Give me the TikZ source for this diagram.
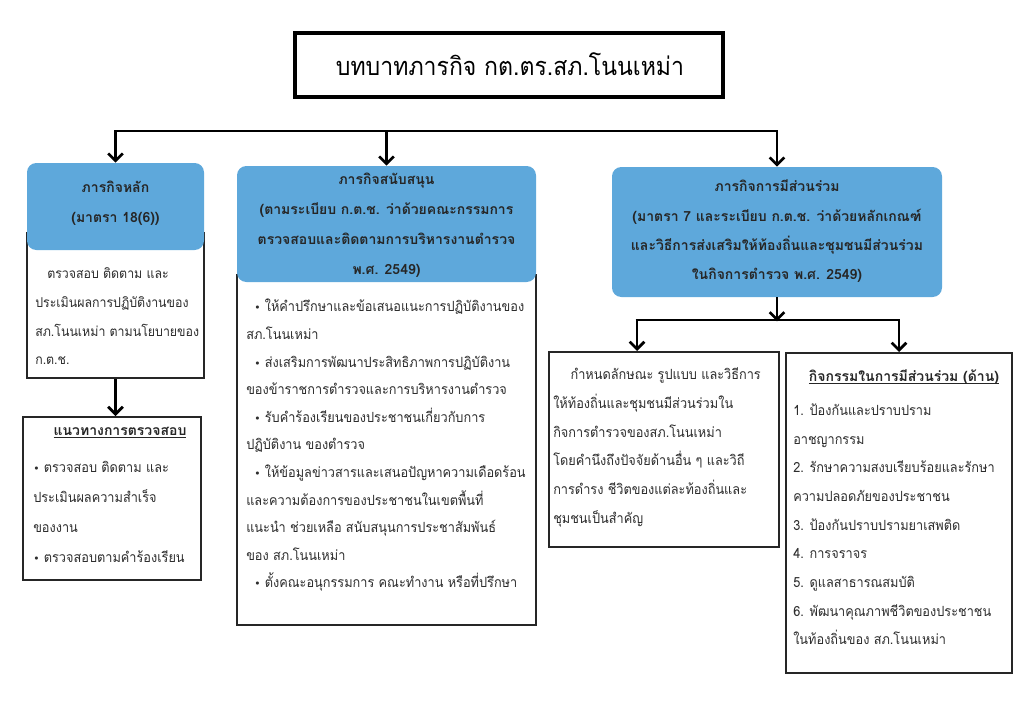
\documentclass[tikz,border=0pt]{standalone}
\usepackage{fontspec}
\setmainfont[Script=Thai,FakeStretch=0.91]{Loma}
\newfontfamily\headfont[Script=Thai]{Loma}
\newfontfamily\bulfont{DejaVu Sans}
\usetikzlibrary{arrows.meta,fit}
\definecolor{boxblue}{RGB}{94,168,219}
\definecolor{bodytext}{RGB}{45,45,45}
\newcommand\bul{{\bulfont\footnotesize •}}
\newcommand\ulx[1]{\underline{\smash{#1}}}
\begin{document}
\begin{tikzpicture}[x=0.75pt,y=-0.75pt,
  bluebox/.style={fill=boxblue,draw=none,rounded corners=7pt,inner sep=0pt},
  whitebox/.style={draw=black!85,line width=1.5pt,fill=white,inner sep=0pt},
  titlebox/.style={draw=black,line width=2.4pt,inner sep=0pt},
  headtext/.style={font=\headfont\bfseries\fontsize{10.5}{22.5}\selectfont,align=center,inner sep=0pt,text=black!85},
  bodytxt/.style={font=\fontsize{10.5}{21.5}\selectfont,align=left,inner sep=0pt,text=bodytext,anchor=west},
  conn/.style={line width=2.2pt,draw=black},
  arr/.style={conn,-{Straight Barb[length=5.5pt,width=11pt,line width=2pt]}}]
\useasboundingbox[fill=white] (0,0) rectangle (1024,724);

% title
\node[titlebox,fit={(295,33) (723,97)}] (title) {};
\node[font=\fontsize{19}{22}\selectfont,inner sep=0pt] (titletext) at (510,64) {บทบาทภารกิจ กต.ตร.สภ.โนนเหม่า};

% left column
\node[whitebox,fit={(27,233) (204,378)}] (lwhite) {};
\node[bluebox,fit={(27,163) (204,250)}] (lblue) {};
\node[headtext] (lbluetext) at (115.5,203) {ภารกิจหลัก\\(มาตรา 18(6))};
\node[bodytxt,font=\fontsize{10.2}{21.5}\selectfont] (lwhitetext) at (35,316.5) {\hspace*{9pt}ตรวจสอบ ติดตาม และ\\ประเมินผลการปฏิบัติงานของ\\สภ.โนนเหม่า ตามนโยบายของ\\ก.ต.ช.};
\node[whitebox,fit={(23,417) (201,580)}] (lguide) {};
\node[headtext,font=\headfont\bfseries\fontsize{10.5}{22}\selectfont] (lguidehead) at (120,437) {\ulx{แนวทางการตรวจสอบ}};
\node[bodytxt,font=\fontsize{10.5}{22.5}\selectfont] (lguidetext) at (33,512) {\bul\ ตรวจสอบ ติดตาม และ\\ประเมินผลความสำเร็จ\\ของงาน\\\bul\ ตรวจสอบตามคำร้องเรียน};

% middle column
\node[whitebox,fit={(237,275) (536,625)}] (mwhite) {};
\node[bluebox,fit={(237,166) (536,282)}] (mblue) {};
\node[headtext] (mbluetext) at (386.5,225) {ภารกิจสนับสนุน\\(ตามระเบียบ ก.ต.ช. ว่าด้วยคณะกรรมการ\\ตรวจสอบและติดตามการบริหารงานตำรวจ\\พ.ศ. 2549)};
\node[bodytxt,font=\fontsize{10.5}{20.7}\selectfont] (mwhitetext) at (246,445.5) {%
\hspace*{6pt}\bul\ ให้คำปรึกษาและข้อเสนอแนะการปฏิบัติงานของ\\
สภ.โนนเหม่า\\
\hspace*{6pt}\bul\ ส่งเสริมการพัฒนาประสิทธิภาพการปฏิบัติงาน\\
ของข้าราชการตำรวจและการบริหารงานตำรวจ\\
\hspace*{6pt}\bul\ รับคำร้องเรียนของประชาชนเกี่ยวกับการ\\
ปฏิบัติงาน ของตำรวจ\\
\hspace*{6pt}\bul\ ให้ข้อมูลข่าวสารและเสนอปัญหาความเดือดร้อน\\
และความต้องการของประชาชนในเขตพื้นที่\\
แนะนำ ช่วยเหลือ สนับสนุนการประชาสัมพันธ์\\
ของ สภ.โนนเหม่า\\
\hspace*{6pt}\bul\ ตั้งคณะอนุกรรมการ คณะทำงาน หรือที่ปรึกษา};

% right column
\node[bluebox,fit={(612,167) (942,297)}] (rblue) {};
\node[headtext,font=\headfont\bfseries\fontsize{10.5}{22}\selectfont] (rbluetext) at (777,231.5) {ภารกิจการมีส่วนร่วม\\(มาตรา 7 และระเบียบ ก.ต.ช. ว่าด้วยหลักเกณฑ์\\และวิธีการส่งเสริมให้ท้องถิ่นและชุมชนมีส่วนร่วม\\ในกิจการตำรวจ พ.ศ. 2549)};
\node[whitebox,fit={(549,352) (779,547)}] (rleft) {};
\node[bodytxt] (rlefttext) at (553,447.5) {\hspace*{13pt}กำหนดลักษณะ รูปแบบ และวิธีการ\\ให้ท้องถิ่นและชุมชนมีส่วนร่วมใน\\กิจการตำรวจของสภ.โนนเหม่า\\โดยคำนึงถึงปัจจัยด้านอื่น ๆ และวิถี\\การดำรง ชีวิตของแต่ละท้องถิ่นและ\\ชุมชนเป็นสำคัญ};
\node[whitebox,fit={(786,353) (1012,673)}] (rright) {};
\node[headtext,font=\headfont\bfseries\fontsize{10.5}{22}\selectfont] (rrighthead) at (904,383) {\ulx{กิจกรรมในการมีส่วนร่วม (ด้าน)}};
\node[bodytxt] (rrighttext) at (793,524.5) {1. ป้องกันและปราบปราม\\อาชญากรรม\\2. รักษาความสงบเรียบร้อยและรักษา\\ความปลอดภัยของประชาชน\\3. ป้องกันปราบปรามยาเสพติด\\4. การจราจร\\5. ดูแลสาธารณสมบัติ\\6. พัฒนาคุณภาพชีวิตของประชาชน\\ในท้องถิ่นของ สภ.โนนเหม่า};

% connectors
\coordinate (barL) at (lblue.north |- 0,131);
\coordinate (barR) at (rblue.north |- 0,131);
\coordinate (barM) at (mblue.north |- 0,131);
\draw[conn] ([xshift=-1.1pt]barL) -- ([xshift=1.1pt]barR);
\draw[arr] (barL) -- (lblue.north);
\draw[arr] (barM) -- (mblue.north);
\draw[arr] (barR) -- (rblue.north);

\draw[arr] (lwhite.south) -- (lwhite.south |- lguide.north);

\coordinate (bar2M) at (rblue.south |- 0,320);
\coordinate (bar2L) at (637,320);
\coordinate (bar2R) at (rright.north |- 0,320);
\draw[arr] (rblue.south) -- ([yshift=-1pt]bar2M);
\draw[conn] ([xshift=-1.1pt]bar2L) -- ([xshift=1.1pt]bar2R);
\draw[arr] (bar2L) -- (bar2L |- rleft.north);
\draw[arr] (bar2R) -- (rright.north);
\end{tikzpicture}
\end{document}
